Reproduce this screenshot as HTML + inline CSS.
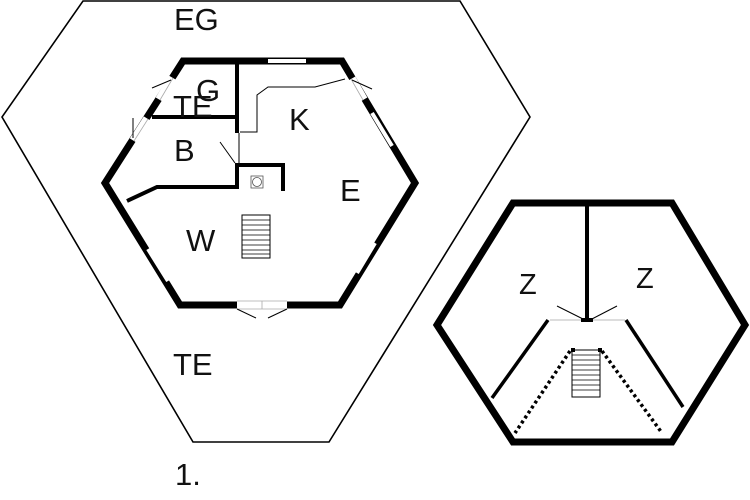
<!DOCTYPE html>
<html><head><style>html,body{margin:0;padding:0;background:#fff}svg{display:block}</style></head>
<body>
<svg width="750" height="500" viewBox="0 0 750 500" xmlns="http://www.w3.org/2000/svg" font-family="Liberation Sans, sans-serif">
<rect width="750" height="500" fill="#fff"/>
<polygon points="83,1 460,1 530,117 329,442 193,442 2,117" fill="none" stroke="#000" stroke-width="1.6"/>
<polygon points="183,61 342,61 415,183 340,305 180,305 105,183" fill="none" stroke="#000" stroke-width="7" stroke-linejoin="miter"/>
<g stroke="#fff" stroke-width="10">
<line x1="173" y1="78" x2="160" y2="100"/>
<line x1="148" y1="119" x2="134" y2="141"/>
<line x1="351" y1="79" x2="363" y2="100"/>
<line x1="237" y1="305" x2="287" y2="305"/>
</g>
<g stroke="#aaa" stroke-width="0.8">
<line x1="173" y1="78" x2="160" y2="100"/>
<line x1="148" y1="119" x2="134" y2="141"/>
<line x1="351" y1="79" x2="363" y2="100"/>
<line x1="237" y1="301" x2="287" y2="301"/>
<line x1="237" y1="309" x2="287" y2="309"/>
<line x1="262" y1="301" x2="262" y2="309"/>
</g>
<g stroke="#000" stroke-width="1">
<line x1="152" y1="88" x2="171" y2="80"/>
<line x1="133" y1="118" x2="133" y2="138"/>
<line x1="352" y1="80" x2="372" y2="89"/>
<line x1="237" y1="309" x2="256" y2="318"/>
<line x1="287" y1="309" x2="268" y2="318"/>
</g>
<g stroke="#fff" stroke-width="4">
<line x1="268" y1="61" x2="306" y2="61"/>
<line x1="372" y1="113" x2="392" y2="146"/>
<line x1="148" y1="249" x2="168" y2="281"/>
<line x1="357" y1="273" x2="375" y2="243"/>
</g>
<g stroke="#000" fill="none">
<line x1="237" y1="61" x2="237" y2="133" stroke-width="4"/>
<line x1="152" y1="117" x2="237" y2="117" stroke-width="4"/>
<line x1="239" y1="133" x2="239" y2="165" stroke-width="1"/>
<polyline points="237,163 237,187 157,187 127,201" stroke-width="4"/>
<polyline points="237,165 283,165 283,191" stroke-width="4"/>
<polyline points="240,132 257,132 257,95 268,87 315,87 345,79" stroke-width="1"/>
<line x1="220" y1="142" x2="235" y2="163" stroke-width="1"/>
<rect x="251" y="176" width="12" height="12" stroke-width="0.8" stroke="#555"/>
<circle cx="257" cy="182" r="4.5" stroke-width="0.8" stroke="#555"/>
<rect x="242" y="215" width="28" height="43" stroke-width="1"/>
<path d="M242 220H270M242 225H270M242 230H270M242 235H270M242 240H270M242 245H270M242 250H270M242 254H270" stroke-width="0.8"/>
</g>
<polygon points="513,203 672,203 745,325 672,442 513,442 437,325" fill="none" stroke="#000" stroke-width="7"/>
<g stroke="#000" fill="none">
<line x1="587" y1="203" x2="587" y2="320" stroke-width="4"/>
<line x1="550" y1="320" x2="625" y2="320" stroke="#bbb" stroke-width="1"/>
<rect x="581" y="318" width="12" height="4" fill="#000" stroke="none"/>
<line x1="557" y1="306" x2="585" y2="320" stroke-width="1"/>
<line x1="617" y1="306" x2="590" y2="320" stroke-width="1"/>
<line x1="548" y1="320" x2="492" y2="398" stroke-width="3.5"/>
<line x1="626" y1="320" x2="683" y2="407" stroke-width="3.5"/>
<line x1="570" y1="351" x2="515" y2="433" stroke-width="3.5" stroke-dasharray="3,3"/>
<line x1="602" y1="351" x2="662" y2="433" stroke-width="3.5" stroke-dasharray="3,3"/>
<rect x="571" y="348" width="4" height="4" fill="#000" stroke="none"/>
<rect x="598" y="348" width="4" height="4" fill="#000" stroke="none"/>
<rect x="572" y="350" width="28" height="47" stroke-width="1"/>
<path d="M572 355H600M572 360H600M572 365H600M572 370H600M572 375H600M572 380H600M572 385H600M572 390H600" stroke-width="0.8"/>
</g>
<g fill="#111" font-size="31">
<text x="174" y="30">EG</text>
<text x="196" y="101">G</text>
<text x="173" y="117">TE</text>
<text x="289" y="130">K</text>
<text x="174" y="161">B</text>
<text x="340" y="201">E</text>
<text x="186" y="251">W</text>
<text x="173" y="375">TE</text>
<text x="175" y="485">1.</text>
<text x="519" y="294" font-size="29">Z</text>
<text x="636" y="288" font-size="29">Z</text>
</g>
</svg>
</body></html>
